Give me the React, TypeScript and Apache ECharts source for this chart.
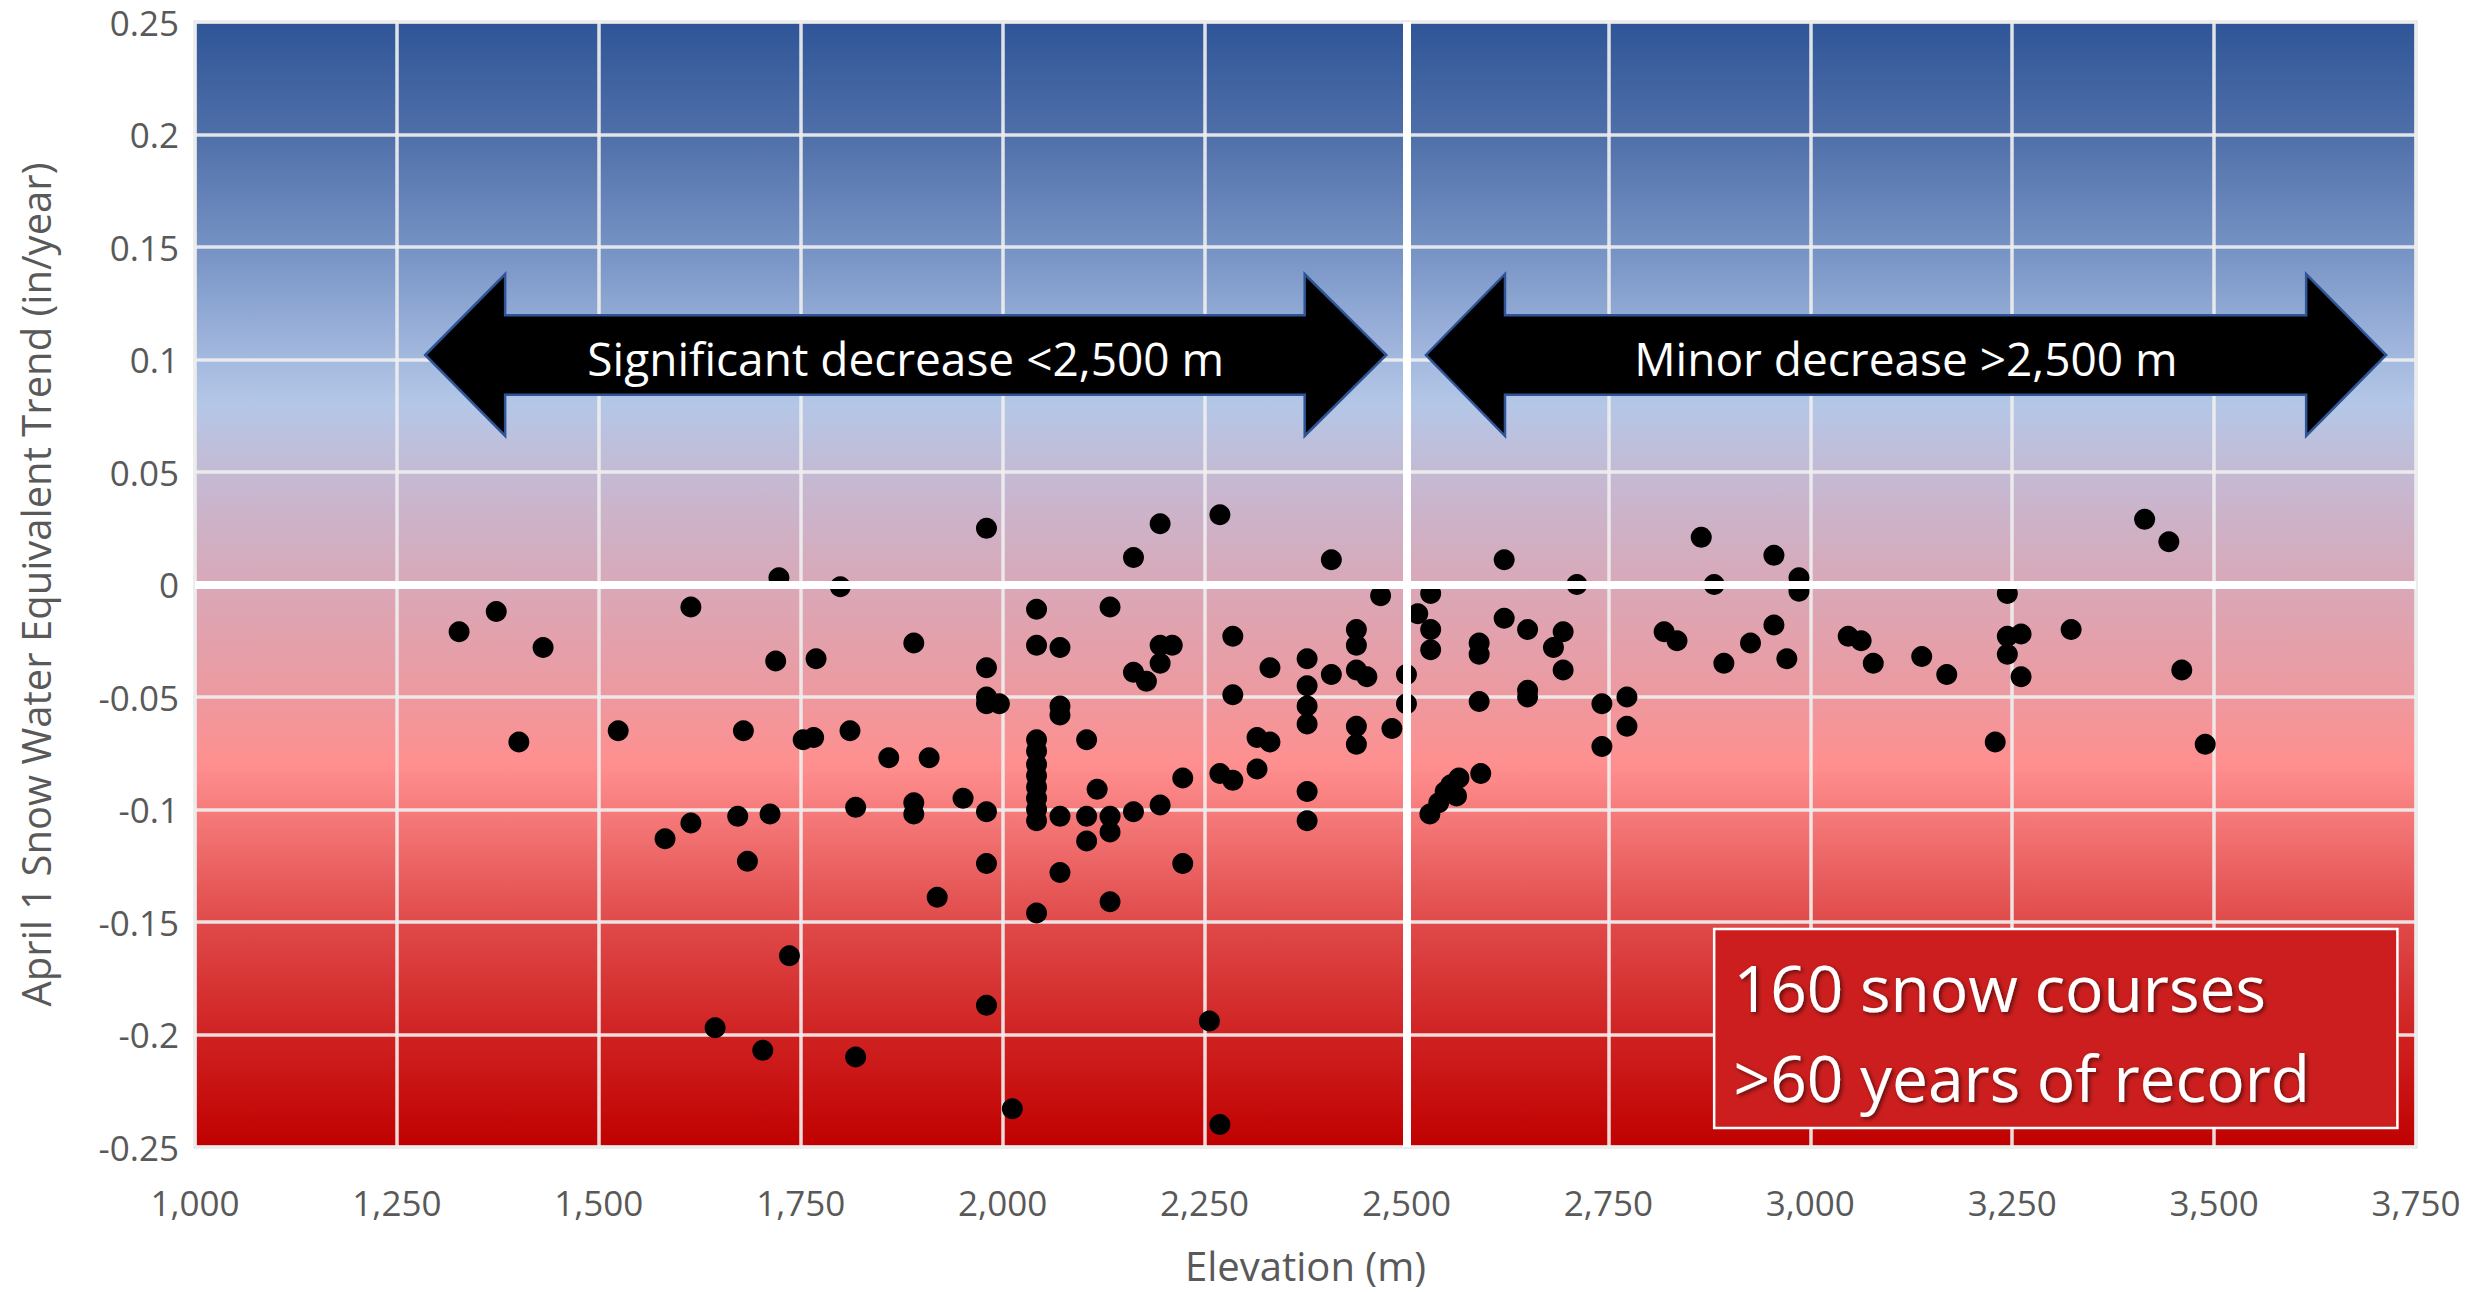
import React, { useEffect, useRef } from "react";
import * as echarts from "echarts";

// ---- Data ----
const elevations = [
  1327, 1373, 1431, 1401, 1524, 1582, 1614, 1614, 1644, 1672, 1679, 1684, 1703, 1712, 1719, 1723,
  1736, 1753, 1766, 1769, 1799, 1811, 1818, 1818, 1859, 1890, 1890, 1890, 1909, 1919, 1951, 1980,
  1980, 1980, 1980, 1996, 1980, 1980, 1980, 2012, 2042, 2042, 2042, 2042, 2042, 2042, 2042, 2042,
  2042, 2042, 2042, 2071, 2071, 2071, 2071, 2071, 2104, 2104, 2104, 2117, 2133, 2133, 2133, 2133,
  2162, 2162, 2162, 2178, 2195, 2195, 2210, 2195, 2195, 2223, 2223, 2256, 2269, 2269, 2269, 2285,
  2285, 2285, 2315, 2315, 2331, 2331, 2377, 2377, 2377, 2377, 2377, 2377, 2407, 2407, 2438, 2438,
  2438, 2451, 2438, 2438, 2468, 2482, 2500, 2500,
  2514, 2530, 2530, 2530, 2529, 2540, 2548, 2555, 2562, 2565, 2590, 2590, 2590, 2592, 2621, 2621,
  2650, 2650, 2650, 2682, 2694, 2694, 2711, 2742, 2742, 2773, 2773, 2819, 2835, 2865, 2881, 2893,
  2926, 2955, 2955, 2971, 2986, 2986, 3047, 3063, 3078, 3138, 3169, 3229, 3244, 3244, 3261, 3244,
  3261, 3323, 3414, 3444, 3460, 3489,
];
const trends = [
  -0.021, -0.012, -0.028, -0.07, -0.065, -0.113, -0.01, -0.106, -0.197, -0.103, -0.065, -0.123, -0.207, -0.102, -0.034, 0.003,
  -0.165, -0.069, -0.068, -0.033, -0.001, -0.065, -0.099, -0.21, -0.077, -0.026, -0.097, -0.102, -0.077, -0.139, -0.095, 0.025,
  -0.037, -0.05, -0.053, -0.053, -0.101, -0.124, -0.187, -0.233, -0.011, -0.027, -0.069, -0.074, -0.08, -0.085, -0.09, -0.095,
  -0.1, -0.105, -0.146, -0.028, -0.054, -0.058, -0.103, -0.128, -0.069, -0.103, -0.114, -0.091, -0.01, -0.103, -0.11, -0.141,
  0.012, -0.039, -0.101, -0.043, 0.027, -0.027, -0.027, -0.035, -0.098, -0.086, -0.124, -0.194, 0.031, -0.084, -0.24, -0.023,
  -0.049, -0.087, -0.068, -0.082, -0.037, -0.07, -0.033, -0.045, -0.054, -0.062, -0.092, -0.105, 0.011, -0.04, -0.02, -0.027,
  -0.038, -0.041, -0.063, -0.071, -0.005, -0.064, -0.04, -0.053,
  -0.013, -0.004, -0.02, -0.029, -0.102, -0.097, -0.092, -0.089, -0.094, -0.086, -0.026, -0.031, -0.052, -0.084, 0.011, -0.015,
  -0.02, -0.047, -0.05, -0.028, -0.021, -0.038, 0.0, -0.053, -0.072, -0.05, -0.063, -0.021, -0.025, 0.021, 0.0, -0.035,
  -0.026, 0.013, -0.018, -0.033, 0.003, -0.003, -0.023, -0.025, -0.035, -0.032, -0.04, -0.07, -0.004, -0.023, -0.022, -0.031,
  -0.041, -0.02, 0.029, 0.019, -0.038, -0.071,
];

const xMin = 1000;
const xMax = 3750;
const xStep = 250;
const yMin = -0.25;
const yMax = 0.25;
const yStep = 0.05;
const splitElevation = 2500;
const xAxisName = "Elevation (m)";
const yAxisName = "April 1 Snow Water Equivalent Trend (in/year)";
const leftArrowText = "Significant decrease <2,500 m";
const rightArrowText = "Minor decrease >2,500 m";
const boxLines = ["160 snow courses", ">60 years of record"];

// arrow extents in data units: [tip, head base, head base, tip]
const leftArrowX = [1285, 1384, 2374, 2475];
const rightArrowX = [2524, 2622, 3614, 3713];
const arrowCenterY = 0.102;
const arrowTextY = 0.1005;
const arrowHeadHalf = 0.036;
const arrowShaftHalf = 0.0177;
// note box extents in data units
const boxX = [2881, 3727];
const boxY = [-0.1531, -0.2416];
const boxTextX = 2905;
const boxTextY = [-0.1792, -0.219];

const FONT = "Open Sans";
const GRAY = "#595959";

export default function App() {
  const ref = useRef<HTMLDivElement>(null);

  useEffect(() => {
    document.body.style.margin = "0";
    document.body.style.overflow = "hidden";
    const chart = echarts.init(ref.current as HTMLDivElement, null, { renderer: "svg" });
    const data = elevations.map((e, i) => [e, trends[i]]);

    const bg = new echarts.graphic.LinearGradient(0, 0, 0, 1, [
      { offset: 0, color: "#2f5597" },
      { offset: 0.1, color: "#4f6fa9" },
      { offset: 0.2, color: "#7592c4" },
      { offset: 0.3, color: "#a4b9df" },
      { offset: 0.34, color: "#b4c7e7" },
      { offset: 0.4, color: "#c4bad4" },
      { offset: 0.5, color: "#d9a8b8" },
      { offset: 0.6, color: "#ed999f" },
      { offset: 0.66, color: "#ff8f8f" },
      { offset: 0.72, color: "#f27272" },
      { offset: 0.8, color: "#e04a4a" },
      { offset: 0.9, color: "#d02222" },
      { offset: 1, color: "#c00000" },
    ]);

    const option: any = {
      animation: false,
      backgroundColor: "#ffffff",
      textStyle: { fontFamily: FONT },
      grid: {
        left: 195,
        right: 68,
        top: 22,
        bottom: 140,
        show: true,
        backgroundColor: bg,
        borderColor: "#d9d9d9",
        borderWidth: 3,
      },
      xAxis: {
        type: "value",
        min: xMin,
        max: xMax,
        interval: xStep,
        name: xAxisName,
        nameLocation: "middle",
        nameGap: 96,
        nameTextStyle: { fontSize: 40, lineHeight: 44, color: GRAY, fontFamily: FONT },
        axisLine: { show: false },
        axisTick: { show: false },
        axisLabel: {
          fontSize: 35,
          color: GRAY,
          fontFamily: FONT,
          margin: 38,
          formatter: (v: number) => v.toLocaleString("en-US"),
        },
        splitLine: { show: true, lineStyle: { color: "rgba(238,238,238,0.92)", width: 3.5 } },
      },
      yAxis: {
        type: "value",
        min: yMin,
        max: yMax,
        interval: yStep,
        name: yAxisName,
        nameLocation: "middle",
        nameGap: 140,
        nameTextStyle: { fontSize: 40, color: GRAY, fontFamily: FONT },
        axisLine: { show: false },
        axisTick: { show: false },
        axisLabel: {
          fontSize: 35,
          color: GRAY,
          fontFamily: FONT,
          margin: 16,
          formatter: (v: number) => String(Math.round(v * 100) / 100),
        },
        splitLine: { show: true, lineStyle: { color: "rgba(238,238,238,0.92)", width: 3.5 } },
      },
      series: [
        {
          type: "scatter",
          data: [],
          z: 1,
          silent: true,
          markLine: {
            silent: true,
            symbol: "none",
            label: { show: false },
            lineStyle: { color: "#ffffff", width: 8, type: "solid" },
            data: [{ yAxis: 0 }, { xAxis: splitElevation }],
          },
        },
        {
          type: "scatter",
          data,
          z: 3,
          symbol: "circle",
          symbolSize: 21,
          itemStyle: { color: "#000000", opacity: 1 },
        },
      ],
    };
    chart.setOption(option);

    const px = (x: number, y: number) =>
      chart.convertToPixel({ xAxisIndex: 0, yAxisIndex: 0 }, [x, y]) as number[];

    const arrowPoints = (xs: number[]) => {
      const [t1, b1, b2, t2] = xs;
      const c = arrowCenterY;
      return [
        px(t1, c),
        px(b1, c + arrowHeadHalf),
        px(b1, c + arrowShaftHalf),
        px(b2, c + arrowShaftHalf),
        px(b2, c + arrowHeadHalf),
        px(t2, c),
        px(b2, c - arrowHeadHalf),
        px(b2, c - arrowShaftHalf),
        px(b1, c - arrowShaftHalf),
        px(b1, c - arrowHeadHalf),
      ];
    };

    const arrowText = (xs: number[], text: string) => {
      const p = px((xs[0] + xs[3]) / 2, arrowTextY);
      return {
        type: "text",
        z: 11,
        x: p[0],
        y: p[1],
        style: {
          text,
          fill: "#ffffff",
          fontSize: 46,
          fontFamily: FONT,
          align: "center",
          verticalAlign: "middle",
        },
      };
    };

    const b0 = px(boxX[0], boxY[0]);
    const b1 = px(boxX[1], boxY[1]);
    const graphics: any[] = [
      {
        type: "polygon",
        z: 10,
        shape: { points: arrowPoints(leftArrowX) },
        style: { fill: "#000000", stroke: "#2f5597", lineWidth: 2.5 },
      },
      {
        type: "polygon",
        z: 10,
        shape: { points: arrowPoints(rightArrowX) },
        style: { fill: "#000000", stroke: "#2f5597", lineWidth: 2.5 },
      },
      arrowText(leftArrowX, leftArrowText),
      arrowText(rightArrowX, rightArrowText),
      {
        type: "rect",
        z: 10,
        shape: { x: b0[0], y: b0[1], width: b1[0] - b0[0], height: b1[1] - b0[1] },
        style: { fill: "#cc1e1e", stroke: "#ffffff", lineWidth: 2.5 },
      },
      ...boxLines.map((t, i) => {
        const p = px(boxTextX, boxTextY[i]);
        return {
          type: "text",
          z: 11,
          x: p[0],
          y: p[1],
          style: {
            text: t,
            fill: "#ffffff",
            fontSize: 64,
            fontFamily: FONT,
            align: "left",
            verticalAlign: "middle",
            textShadowColor: "rgba(0,0,0,0.55)",
            textShadowBlur: 4,
            textShadowOffsetX: 2,
            textShadowOffsetY: 2,
          },
        };
      }),
    ];
    chart.setOption({ graphic: graphics });

    return () => {
      chart.dispose();
    };
  }, []);

  return (
    <div
      ref={ref}
      style={{ position: "absolute", left: 0, top: 0, width: 2484, height: 1292, background: "#ffffff" }}
    />
  );
}
